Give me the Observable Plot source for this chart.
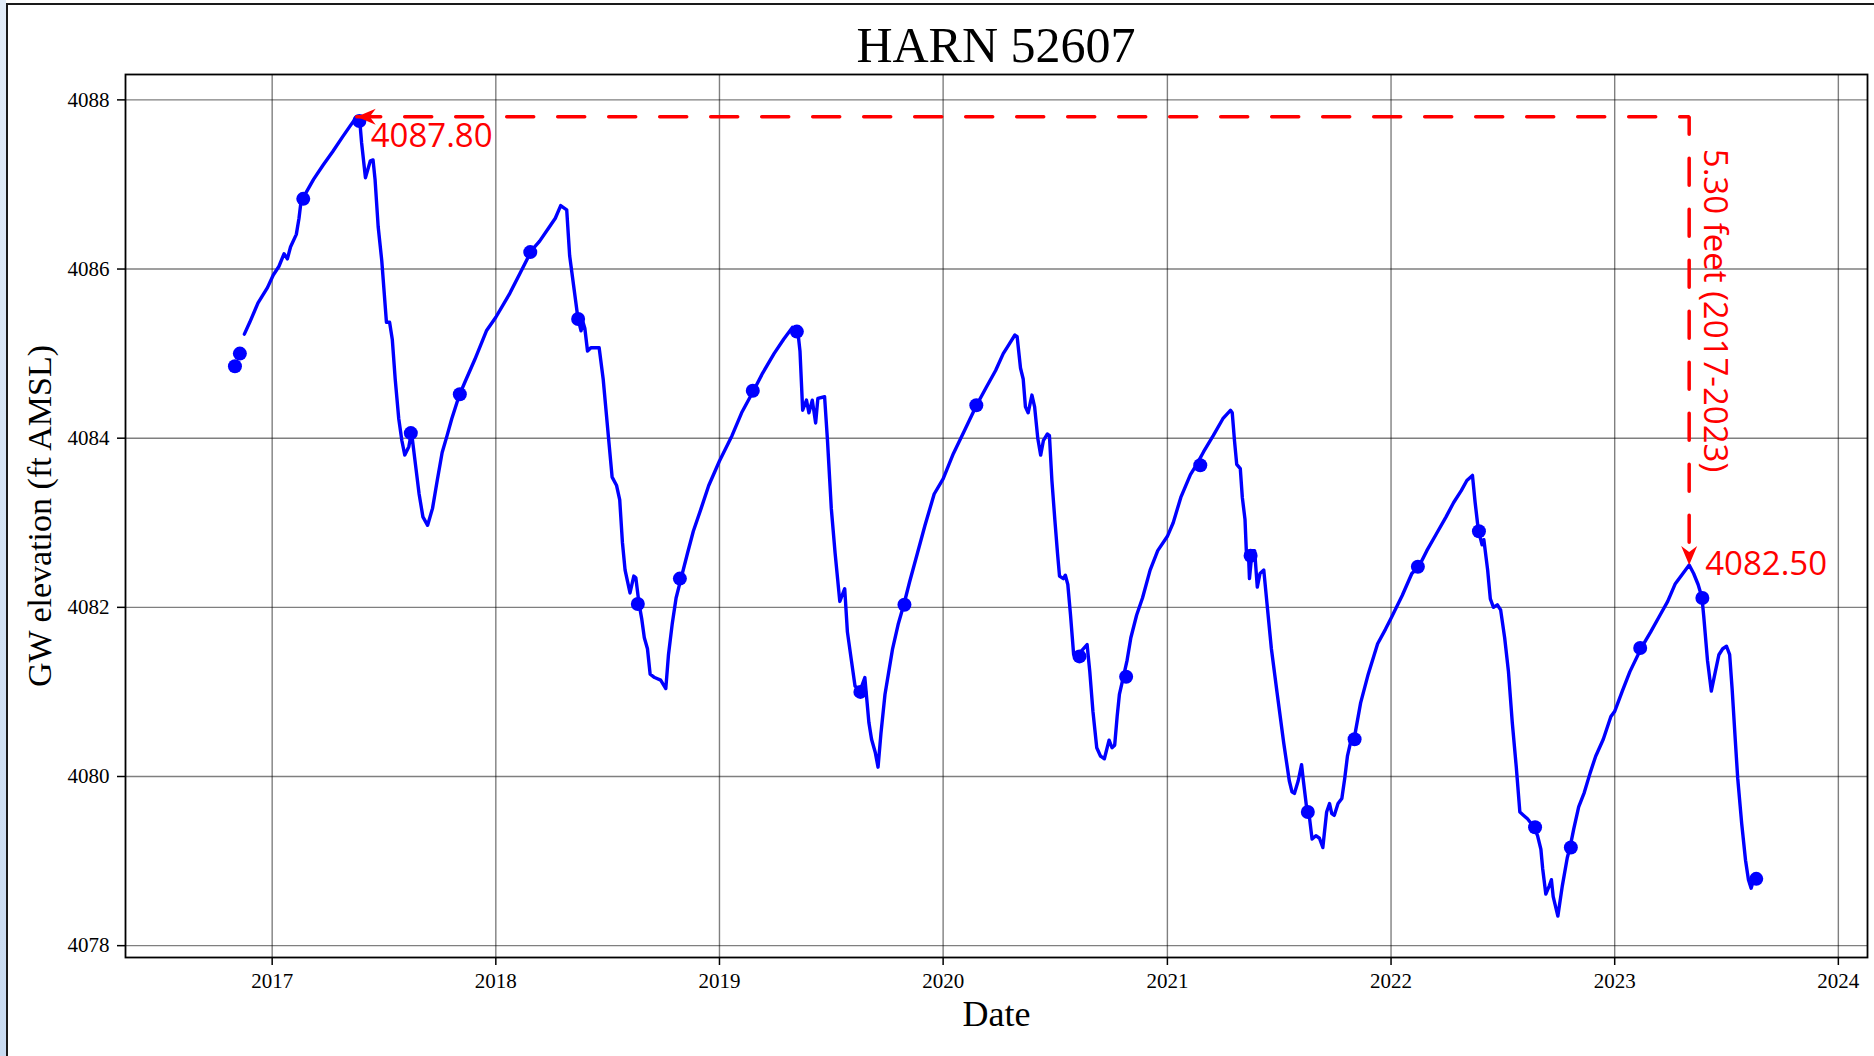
<!DOCTYPE html>
<html>
<head>
<meta charset="utf-8">
<title>HARN 52607</title>
<script src="https://cdn.jsdelivr.net/npm/d3@7"></script>
<script src="https://cdn.jsdelivr.net/npm/@observablehq/plot@0.6"></script>
<style>
  html, body { margin: 0; padding: 0; background: #fff; }
  body { width: 1874px; height: 1056px; position: relative; overflow: hidden;
         font-family: "Liberation Serif", "Times New Roman", serif; }
  #title { position: absolute; left: 125px; width: 1742px; top: 20px; text-align: center;
           font-size: 50px; line-height: 50px; color: #000; }
  #chart { position: absolute; left: 0; top: 56px; }
  #strip { position: absolute; left: 0; top: 0; width: 6px; height: 100%;
           background: linear-gradient(180deg, #e2ecf8, #c9dbf1); }
  #edge { position: absolute; left: 6px; top: 3px; right: 0; bottom: 0; pointer-events: none;
          border-left: 2px solid #1a1a1a; border-top: 2px solid #1a1a1a; }
</style>
</head>
<body>
<div id="title">HARN 52607</div>
<div id="chart"></div>
<div id="strip"></div>
<div id="edge"></div>
<script>
// Continuous logger record (decimal year, groundwater elevation in ft AMSL)
const loggerYears = [
  2016.876, 2016.900, 2016.937, 2016.979, 2017.005, 2017.030, 2017.053, 2017.068, 2017.082, 2017.108,
  2017.120, 2017.130, 2017.142, 2017.185, 2017.228, 2017.271, 2017.314, 2017.348, 2017.378, 2017.392,
  2017.400, 2017.417, 2017.439, 2017.451, 2017.460, 2017.474, 2017.490, 2017.511, 2017.525, 2017.537,
  2017.550, 2017.566, 2017.580, 2017.593, 2017.611, 2017.623, 2017.643, 2017.657, 2017.674, 2017.695,
  2017.717, 2017.738, 2017.760, 2017.782, 2017.803, 2017.837, 2017.863, 2017.906, 2017.958, 2018.000,
  2018.060, 2018.110, 2018.160, 2018.196, 2018.240, 2018.266, 2018.290, 2018.317, 2018.330, 2018.350,
  2018.367, 2018.381, 2018.390, 2018.398, 2018.410, 2018.425, 2018.462, 2018.480, 2018.503, 2018.520,
  2018.540, 2018.554, 2018.566, 2018.578, 2018.600, 2018.617, 2018.626, 2018.640, 2018.652, 2018.664,
  2018.678, 2018.690, 2018.710, 2018.737, 2018.760, 2018.772, 2018.789, 2018.806, 2018.828, 2018.857,
  2018.883, 2018.918, 2018.952, 2019.000, 2019.056, 2019.099, 2019.154, 2019.193, 2019.244, 2019.287,
  2019.326, 2019.350, 2019.360, 2019.372, 2019.389, 2019.400, 2019.415, 2019.430, 2019.440, 2019.470,
  2019.483, 2019.500, 2019.517, 2019.538, 2019.560, 2019.572, 2019.590, 2019.606, 2019.628, 2019.650,
  2019.668, 2019.680, 2019.697, 2019.709, 2019.722, 2019.740, 2019.757, 2019.774, 2019.800, 2019.825,
  2019.850, 2019.885, 2019.919, 2019.960, 2020.000, 2020.046, 2020.097, 2020.149, 2020.192, 2020.234,
  2020.268, 2020.294, 2020.320, 2020.330, 2020.345, 2020.357, 2020.367, 2020.379, 2020.396, 2020.408,
  2020.422, 2020.435, 2020.447, 2020.465, 2020.474, 2020.485, 2020.498, 2020.510, 2020.519, 2020.536,
  2020.545, 2020.556, 2020.568, 2020.582, 2020.596, 2020.625, 2020.642, 2020.654, 2020.668, 2020.685,
  2020.702, 2020.719, 2020.740, 2020.753, 2020.765, 2020.776, 2020.786, 2020.803, 2020.820, 2020.837,
  2020.863, 2020.889, 2020.923, 2020.957, 2021.000, 2021.026, 2021.060, 2021.103, 2021.133, 2021.162,
  2021.205, 2021.248, 2021.282, 2021.290, 2021.300, 2021.310, 2021.326, 2021.335, 2021.347, 2021.354,
  2021.363, 2021.367, 2021.379, 2021.390, 2021.402, 2021.414, 2021.431, 2021.447, 2021.465, 2021.490,
  2021.520, 2021.545, 2021.557, 2021.568, 2021.585, 2021.600, 2021.608, 2021.624, 2021.635, 2021.647,
  2021.664, 2021.680, 2021.695, 2021.712, 2021.725, 2021.735, 2021.746, 2021.763, 2021.780, 2021.793,
  2021.805, 2021.822, 2021.836, 2021.864, 2021.898, 2021.940, 2021.975, 2022.000, 2022.050, 2022.093,
  2022.124, 2022.160, 2022.203, 2022.246, 2022.280, 2022.314, 2022.339, 2022.364, 2022.376, 2022.390,
  2022.407, 2022.415, 2022.432, 2022.444, 2022.458, 2022.475, 2022.490, 2022.508, 2022.525, 2022.542,
  2022.560, 2022.576, 2022.593, 2022.610, 2022.625, 2022.640, 2022.655, 2022.670, 2022.678, 2022.692,
  2022.708, 2022.717, 2022.725, 2022.746, 2022.766, 2022.788, 2022.800, 2022.817, 2022.839, 2022.864,
  2022.890, 2022.915, 2022.949, 2022.983, 2023.000, 2023.034, 2023.068, 2023.119, 2023.161, 2023.203,
  2023.237, 2023.271, 2023.305, 2023.333, 2023.353, 2023.373, 2023.390, 2023.398, 2023.415, 2023.432,
  2023.450, 2023.466, 2023.483, 2023.500, 2023.514, 2023.525, 2023.539, 2023.550, 2023.568, 2023.585,
  2023.598, 2023.610, 2023.619, 2023.630
];
const loggerLevels = [
  4085.23, 4085.37, 4085.60, 4085.78, 4085.93, 4086.03, 4086.18, 4086.12, 4086.26, 4086.41,
  4086.60, 4086.82, 4086.86, 4087.06, 4087.23, 4087.39, 4087.56, 4087.69, 4087.80, 4087.74,
  4087.49, 4087.08, 4087.28, 4087.29, 4087.06, 4086.50, 4086.10, 4085.37, 4085.37, 4085.17,
  4084.70, 4084.23, 4083.97, 4083.80, 4083.90, 4084.07, 4083.64, 4083.34, 4083.07, 4082.97,
  4083.17, 4083.50, 4083.83, 4084.03, 4084.23, 4084.51, 4084.67, 4084.93, 4085.27, 4085.43,
  4085.70, 4085.96, 4086.22, 4086.33, 4086.50, 4086.60, 4086.75, 4086.70, 4086.16, 4085.76,
  4085.42, 4085.27, 4085.37, 4085.30, 4085.03, 4085.07, 4085.07, 4084.70, 4084.03, 4083.54,
  4083.44, 4083.27, 4082.77, 4082.44, 4082.17, 4082.37, 4082.35, 4082.05, 4081.87, 4081.64,
  4081.51, 4081.21, 4081.17, 4081.14, 4081.04, 4081.44, 4081.81, 4082.11, 4082.34, 4082.64,
  4082.90, 4083.17, 4083.44, 4083.73, 4084.03, 4084.30, 4084.57, 4084.77, 4085.00, 4085.17,
  4085.31, 4085.27, 4085.03, 4084.33, 4084.45, 4084.30, 4084.45, 4084.18, 4084.47, 4084.49,
  4083.97, 4083.17, 4082.64, 4082.07, 4082.22, 4081.71, 4081.37, 4081.07, 4081.01, 4081.17,
  4080.64, 4080.44, 4080.28, 4080.11, 4080.51, 4080.97, 4081.24, 4081.51, 4081.81, 4082.04,
  4082.30, 4082.64, 4082.97, 4083.34, 4083.52, 4083.82, 4084.10, 4084.39, 4084.60, 4084.80,
  4085.00, 4085.11, 4085.22, 4085.20, 4084.83, 4084.70, 4084.37, 4084.30, 4084.51, 4084.37,
  4084.00, 4083.80, 4083.97, 4084.05, 4084.03, 4083.50, 4083.04, 4082.64, 4082.37, 4082.34,
  4082.38, 4082.27, 4081.91, 4081.44, 4081.42, 4081.51, 4081.56, 4081.24, 4080.77, 4080.34,
  4080.24, 4080.21, 4080.43, 4080.34, 4080.37, 4080.71, 4080.97, 4081.17, 4081.37, 4081.64,
  4081.91, 4082.11, 4082.44, 4082.67, 4082.84, 4083.00, 4083.30, 4083.57, 4083.70, 4083.84,
  4084.03, 4084.23, 4084.33, 4084.30, 4083.97, 4083.69, 4083.64, 4083.30, 4083.04, 4082.60,
  4082.60, 4082.34, 4082.67, 4082.67, 4082.24, 4082.40, 4082.44, 4082.00, 4081.51, 4081.00,
  4080.40, 4079.95, 4079.82, 4079.80, 4079.95, 4080.14, 4079.95, 4079.60, 4079.52, 4079.26,
  4079.30, 4079.27, 4079.16, 4079.58, 4079.68, 4079.56, 4079.54, 4079.68, 4079.74, 4079.98,
  4080.24, 4080.44, 4080.46, 4080.87, 4081.21, 4081.57, 4081.74, 4081.87, 4082.14, 4082.40,
  4082.48, 4082.67, 4082.87, 4083.07, 4083.24, 4083.38, 4083.50, 4083.56, 4083.24, 4082.92,
  4082.74, 4082.80, 4082.44, 4082.10, 4082.00, 4082.03, 4081.97, 4081.64, 4081.24, 4080.64,
  4080.11, 4079.58, 4079.54, 4079.50, 4079.45, 4079.40, 4079.30, 4079.14, 4078.91, 4078.61,
  4078.71, 4078.78, 4078.58, 4078.35, 4078.71, 4079.04, 4079.16, 4079.38, 4079.64, 4079.81,
  4080.04, 4080.24, 4080.44, 4080.71, 4080.77, 4081.01, 4081.24, 4081.52, 4081.71, 4081.91,
  4082.07, 4082.28, 4082.40, 4082.50, 4082.40, 4082.27, 4082.12, 4081.90, 4081.37, 4081.01,
  4081.24, 4081.44, 4081.51, 4081.54, 4081.44, 4081.04, 4080.44, 4079.98, 4079.44, 4079.01,
  4078.78, 4078.68, 4078.76, 4078.80
];

// Manual (hand) measurements shown as dots
const manualYears = [
  2016.834, 2016.856, 2017.139, 2017.390, 2017.620, 2017.839, 2018.154, 2018.368, 2018.635, 2018.823,
  2019.149, 2019.346, 2019.630, 2019.827, 2020.148, 2020.608, 2020.816, 2021.147, 2021.372, 2021.628,
  2021.837, 2022.120, 2022.393, 2022.644, 2022.804, 2023.114, 2023.392, 2023.633
];
const manualLevels = [
  4084.85, 4085.00, 4086.83, 4087.75, 4084.06, 4084.52, 4086.20, 4085.41, 4082.04, 4082.34,
  4084.56, 4085.26, 4081.00, 4082.03, 4084.39, 4081.42, 4081.18, 4083.68, 4082.61, 4079.58,
  4080.44, 4082.48, 4082.90, 4079.40, 4079.16, 4081.52, 4082.11, 4078.79
];

// Spring peaks compared by the decline annotation
const peakYears = [2017.378, 2023.333];
const peakLevels = [4087.80, 4082.50];
const declinePeriod = "2017-2023";

// Axis ticks and extents
const xTickYears = [2017, 2018, 2019, 2020, 2021, 2022, 2023, 2024];
const yTicks = [4078, 4080, 4082, 4084, 4086, 4088];
const xExtentYears = [2016.346, 2024.13];
const yExtent = [4077.86, 4088.30];

// Decimal year -> UTC Date
function fromDecimalYear(y) {
  const yr = Math.floor(y);
  const start = Date.UTC(yr, 0, 1), end = Date.UTC(yr + 1, 0, 1);
  return new Date(start + (y - yr) * (end - start));
}

const logger = loggerYears.map((y, i) => ({date: fromDecimalYear(y), level: loggerLevels[i]}));
const manual = manualYears.map((y, i) => ({date: fromDecimalYear(y), level: manualLevels[i]}));
const peaks = peakYears.map((y, i) => ({date: fromDecimalYear(y), level: peakLevels[i]}));
const corner = {date: peaks[1].date, level: peaks[0].level};
const guide = [peaks[0], corner, peaks[1]];
const declineText = `${(peakLevels[0] - peakLevels[1]).toFixed(2)} feet (${declinePeriod})`;
const xTicks = xTickYears.map(y => new Date(Date.UTC(y, 0, 1)));

// Filled arrowheads with the tip at the symbol origin
const headLeft = {
  draw(ctx) { ctx.moveTo(0, 0); ctx.lineTo(19, -8); ctx.lineTo(13, 0); ctx.lineTo(19, 8); ctx.closePath(); }
};
const headDown = {
  draw(ctx) { ctx.moveTo(0, 0); ctx.lineTo(-8, -19); ctx.lineTo(0, -13); ctx.lineTo(8, -19); ctx.closePath(); }
};

const serif = '"Liberation Serif", "Times New Roman", serif';
const sans = '"Open Sans", "Noto Sans", sans-serif';
const red = "#ff0000";
const blue = "#0000ff";

const chart = Plot.plot({
  width: 1874,
  height: 1000,
  marginTop: 18,
  marginBottom: 99,
  marginLeft: 125,
  marginRight: 7,
  style: {fontFamily: serif, fontSize: "21px", color: "#000", background: "transparent", overflow: "visible"},
  x: {type: "utc", domain: xExtentYears.map(fromDecimalYear)},
  y: {domain: yExtent},
  marks: [
    Plot.gridX(xTicks, {stroke: "#000", strokeOpacity: 0.5, strokeWidth: 1.4}),
    Plot.gridY(yTicks, {stroke: "#000", strokeOpacity: 0.5, strokeWidth: 1.4}),
    Plot.axisX(xTicks, {tickSize: 8, tickPadding: 8, tickFormat: d3.utcFormat("%Y"), fontSize: 21,
                        stroke: "#000", strokeWidth: 1.5, label: null}),
    Plot.axisY(yTicks, {tickSize: 8, tickPadding: 8, tickFormat: d3.format("d"), fontSize: 21,
                        stroke: "#000", strokeWidth: 1.5, label: null}),
    Plot.text(["Date"], {frameAnchor: "bottom", dy: 57, fontSize: 36, lineAnchor: "middle", fill: "#000"}),
    Plot.text(["GW elevation (ft AMSL)"], {frameAnchor: "left", rotate: -90, dx: -85, fontSize: 34,
                                            textAnchor: "middle", lineAnchor: "middle", fill: "#000"}),
    // logger record and manual readings
    Plot.line(logger, {x: "date", y: "level", stroke: blue, strokeWidth: 3.4, strokeLinejoin: "round"}),
    Plot.dot(manual, {x: "date", y: "level", r: 7, fill: blue, stroke: "none"}),
    // decline annotation
    Plot.line(guide, {x: "date", y: "level", stroke: red, strokeWidth: 3.5,
                      strokeDasharray: "27,24", strokeDashoffset: 3, strokeLinejoin: "miter"}),
    Plot.dot([peaks[0]], {x: "date", y: "level", symbol: headLeft, fill: red, stroke: "none"}),
    Plot.dot([peaks[1]], {x: "date", y: "level", symbol: headDown, fill: red, stroke: "none"}),
    Plot.text([peaks[0]], {x: "date", y: "level", text: d => d.level.toFixed(2), dx: 14, dy: 20,
                           textAnchor: "start", lineAnchor: "middle", fontSize: 33, fontFamily: sans, fill: red}),
    Plot.text([peaks[1]], {x: "date", y: "level", text: d => d.level.toFixed(2), dx: 16, dy: -1,
                           textAnchor: "start", lineAnchor: "middle", fontSize: 33, fontFamily: sans, fill: red}),
    Plot.text([corner], {x: "date", y: "level", text: () => declineText, rotate: 90, dx: 25, dy: 32,
                         textAnchor: "start", lineAnchor: "middle", fontSize: 33, fontFamily: sans, fill: red}),
    Plot.frame({stroke: "#000", strokeWidth: 1.8})
  ]
});

document.getElementById("chart").append(chart);
</script>
</body>
</html>
